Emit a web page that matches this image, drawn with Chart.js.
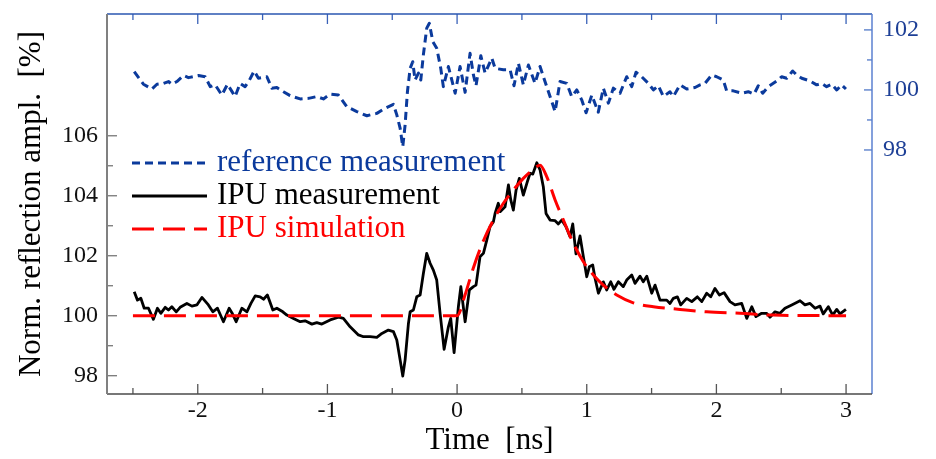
<!DOCTYPE html>
<html>
<head>
<meta charset="utf-8">
<script src="https://cdn.jsdelivr.net/npm/chart.js@4.4.1/dist/chart.umd.min.js"></script>
<style>
  html, body { margin: 0; padding: 0; background: #fff; }
  #wrap { width: 936px; height: 459px; position: relative; }
</style>
</head>
<body>
<div id="wrap"><canvas id="ipu-chart"></canvas></div>
<script>
// reference measurement (right axis), time in ns / amplitude in %
var refTime = [-2.490,-2.419,-2.354,-2.315,-2.264,-2.226,-2.200,-2.161,-2.110,-2.072,
  -1.995,-1.943,-1.904,-1.866,-1.814,-1.771,-1.712,-1.673,-1.635,-1.601,
  -1.565,-1.532,-1.467,-1.429,-1.390,-1.339,-1.288,-1.210,-1.146,-1.082,
  -1.031,-0.979,-0.915,-0.850,-0.773,-0.696,-0.619,-0.555,-0.491,-0.465,
  -0.439,-0.419,-0.401,-0.383,-0.362,-0.342,-0.324,-0.298,-0.280,-0.260,
  -0.234,-0.214,-0.187,-0.157,-0.126,-0.106,-0.067,-0.015,0.023,0.062,
  0.100,0.126,0.146,0.183,0.216,0.268,0.293,0.357,0.409,0.439,
  0.473,0.511,0.550,0.601,0.640,0.678,0.717,0.756,0.794,0.846,
  0.884,0.923,0.961,0.995,1.039,1.089,1.128,1.167,1.205,1.257,
  1.308,1.347,1.380,1.424,1.475,1.514,1.552,1.591,1.642,1.668,
  1.719,1.771,1.835,1.874,1.912,1.964,2.002,2.053,2.079,2.130,
  2.195,2.246,2.290,2.323,2.357,2.400,2.439,2.477,2.503,2.542,
  2.588,2.619,2.658,2.722,2.773,2.812,2.850,2.889,2.928,2.966,
  2.999];
var refAmpl = [100.61,100.19,100.03,100.19,100.22,100.28,100.19,100.28,100.48,100.41,
  100.48,100.44,100.11,100.17,99.83,100.19,99.78,100.22,100.11,100.33,
  100.63,100.39,100.44,100.06,100.08,99.94,99.81,99.70,99.72,99.78,
  99.70,99.86,99.83,99.44,99.28,99.14,99.22,99.39,99.52,99.17,
  98.72,98.11,98.83,99.94,100.72,100.94,100.33,100.56,100.33,101.17,
  102.06,102.22,101.61,101.39,100.72,100.11,100.78,99.89,100.78,99.92,
  101.22,100.50,100.14,101.14,100.56,101.06,100.72,100.67,100.67,100.14,
  100.89,100.17,100.83,100.22,100.78,100.28,99.78,99.28,100.28,100.22,
  99.78,100.00,99.67,99.24,99.83,99.26,100.06,99.56,100.06,99.89,
  100.44,100.11,100.59,100.44,100.22,100.00,100.14,99.78,99.94,99.78,
  100.17,100.03,100.08,100.17,100.22,100.50,100.44,100.33,99.97,99.97,
  99.89,99.94,99.86,100.14,99.89,100.11,100.22,100.33,100.44,100.39,
  100.63,100.50,100.39,100.30,100.17,100.22,100.11,100.19,100.00,100.17,
  100.03];

// IPU measurement (left axis)
var ipuTime = [-2.490,-2.465,-2.439,-2.413,-2.380,-2.342,-2.311,-2.285,-2.251,-2.226,
  -2.200,-2.166,-2.136,-2.084,-2.045,-2.007,-1.968,-1.918,-1.884,-1.848,
  -1.802,-1.758,-1.737,-1.704,-1.660,-1.621,-1.590,-1.557,-1.519,-1.493,
  -1.463,-1.421,-1.390,-1.344,-1.313,-1.262,-1.210,-1.172,-1.120,-1.082,
  -1.043,-0.979,-0.915,-0.877,-0.825,-0.761,-0.722,-0.671,-0.619,-0.580,
  -0.530,-0.491,-0.465,-0.439,-0.419,-0.401,-0.375,-0.362,-0.337,-0.311,
  -0.285,-0.260,-0.234,-0.208,-0.183,-0.157,-0.131,-0.100,-0.067,-0.049,
  -0.023,0.010,0.029,0.062,0.095,0.126,0.146,0.177,0.203,0.229,
  0.254,0.280,0.293,0.318,0.332,0.370,0.396,0.414,0.434,0.455,
  0.480,0.511,0.542,0.563,0.584,0.615,0.640,0.665,0.686,0.717,
  0.756,0.781,0.807,0.840,0.871,0.892,0.917,0.948,0.974,1.000,
  1.020,1.046,1.064,1.090,1.128,1.154,1.185,1.210,1.244,1.282,
  1.308,1.347,1.372,1.411,1.436,1.463,1.501,1.527,1.565,1.617,
  1.642,1.668,1.699,1.725,1.771,1.810,1.853,1.887,1.925,1.956,
  1.989,2.023,2.059,2.105,2.143,2.195,2.234,2.273,2.305,2.349,
  2.388,2.413,2.452,2.490,2.529,2.581,2.645,2.683,2.722,2.761,
  2.799,2.824,2.863,2.897,2.928,2.953,2.999];
var ipuAmpl = [100.80,100.52,100.58,100.25,100.25,99.88,100.25,100.08,100.28,100.19,
  100.30,100.13,100.28,100.41,100.32,100.36,100.61,100.36,100.13,100.25,
  99.80,100.25,100.10,99.80,100.25,100.13,100.41,100.66,100.63,100.55,
  100.69,100.19,100.25,100.13,100.02,99.91,99.80,99.83,99.72,99.77,
  99.72,99.86,99.95,99.91,99.63,99.36,99.30,99.30,99.28,99.41,
  99.52,99.47,99.19,98.52,97.99,98.52,99.75,100.13,100.19,100.63,
  100.69,101.41,102.08,101.75,101.52,101.19,100.08,98.88,99.63,99.91,
  98.77,100.30,100.97,99.80,100.86,100.97,101.02,101.97,102.08,102.52,
  102.97,103.13,103.41,103.75,103.47,103.63,104.36,103.86,103.52,104.19,
  104.58,104.02,104.47,104.75,104.72,105.10,104.86,104.30,103.41,103.19,
  103.17,103.06,103.19,102.97,102.63,103.06,102.06,102.66,101.97,101.30,
  101.63,101.69,101.25,100.75,101.13,100.86,101.13,100.88,101.13,100.97,
  101.19,101.36,101.08,101.32,101.13,101.32,100.75,101.02,100.52,100.52,
  100.41,100.58,100.63,100.36,100.58,100.47,100.63,100.47,100.75,100.63,
  100.91,100.69,100.77,100.47,100.36,100.41,99.91,100.30,99.97,100.08,
  100.08,99.95,100.13,100.08,100.25,100.36,100.50,100.36,100.41,100.25,
  100.32,100.06,100.30,100.02,100.21,100.06,100.21];

// IPU simulation (left axis)
var simTime = [-2.5, 0.0, 0.062, 0.126, 0.203, 0.280, 0.357, 0.434, 0.511, 0.588, 0.640,
  0.692, 0.756, 0.820, 0.897, 0.974, 1.051, 1.128, 1.231, 1.359, 1.514, 1.719, 1.925,
  2.182, 2.439, 3.0];
var simAmpl = [100, 100, 100.70, 101.60, 102.50, 103.19, 103.75, 104.19, 104.58, 104.88, 105.02,
  104.63, 103.86, 103.19, 102.41, 101.80, 101.36, 101.02, 100.69, 100.43, 100.30, 100.21, 100.13,
  100.08, 100.02, 100.0];

var timeTicks = [-2, -1, 0, 1, 2, 3];
var leftTicks = [98, 100, 102, 104, 106];
var rightTicks = [98, 100, 102];

var serif = "'Liberation Serif', 'Times New Roman', serif";
var refBlue = "#0b3a9c";

function toPoints(xs, ys) {
  return xs.map(function (x, i) {
    return { x: x, y: ys[i] };
  });
}

function fixTicks(values) {
  return function (scale) {
    scale.ticks = values.map(function (v) {
      return { value: v };
    });
  };
}

function noPad(scale) {
  scale.paddingTop = 0;
  scale.paddingBottom = 0;
  scale.paddingLeft = 0;
  scale.paddingRight = 0;
}

// axis frame + inward tick marks
var framePlugin = {
  id: "frame",
  afterDatasetsDraw: function (chart) {
    var ctx = chart.ctx;
    var a = chart.chartArea;
    var sx = chart.scales.x, yl = chart.scales.y, yr = chart.scales.y2;

    function seg(x1, y1, x2, y2, color, w) {
      ctx.beginPath();
      ctx.strokeStyle = color;
      ctx.lineWidth = w;
      ctx.moveTo(x1, y1);
      ctx.lineTo(x2, y2);
      ctx.stroke();
    }

    ctx.save();
    // x ticks, bottom and top
    timeTicks.forEach(function (v) {
      var px = sx.getPixelForValue(v);
      var mx = sx.getPixelForValue(v - 0.5);
      seg(px, a.bottom, px, a.bottom - 10, "#555", 1.3);
      seg(mx, a.bottom, mx, a.bottom - 6, "#555", 1.3);
      seg(px, a.top, px, a.top + 10, "#3a62b8", 1.3);
      seg(mx, a.top, mx, a.top + 6, "#3a62b8", 1.3);
    });
    // left ticks
    leftTicks.forEach(function (v, i) {
      var py = yl.getPixelForValue(v);
      seg(a.left, py, a.left + 10, py, "#777", 1.3);
      if (i < leftTicks.length - 1) {
        var my = yl.getPixelForValue(v + 1);
        seg(a.left, my, a.left + 6, my, "#777", 1.3);
      }
    });
    // right ticks
    rightTicks.forEach(function (v, i) {
      var py = yr.getPixelForValue(v);
      seg(a.right, py, a.right - 8, py, "#5078c8", 1.3);
      if (i < rightTicks.length - 1) {
        var my = yr.getPixelForValue(v + 1);
        seg(a.right, my, a.right - 5, my, "#5078c8", 1.3);
      }
    });
    // frame
    seg(a.left, a.top, a.right, a.top, "#2a56b0", 1.5);
    seg(a.right, a.top, a.right, a.bottom, "#5b80d0", 1.5);
    seg(a.left, a.bottom, a.right, a.bottom, "#4a4a4a", 1.5);
    seg(a.left, a.top, a.left, a.bottom, "#808080", 2);
    ctx.restore();
  }
};

// legend inside the plot, upper left
var legendPlugin = {
  id: "insideLegend",
  afterDraw: function (chart) {
    var ctx = chart.ctx;
    var a = chart.chartArea;
    var order = ["reference measurement", "IPU measurement", "IPU simulation"];
    ctx.save();
    ctx.font = "31px " + serif;
    ctx.textBaseline = "middle";
    ctx.textAlign = "left";
    order.forEach(function (name, i) {
      var ds = chart.data.datasets.filter(function (d) { return d.label === name; })[0];
      var y = a.top + 149 + i * 33;
      var x0 = a.left + 25;
      ctx.beginPath();
      ctx.setLineDash(ds.borderDash || []);
      ctx.strokeStyle = ds.borderColor;
      ctx.lineWidth = 3;
      ctx.moveTo(x0, y);
      ctx.lineTo(x0 + 75, y);
      ctx.stroke();
      ctx.setLineDash([]);
      ctx.fillStyle = ds.borderColor;
      ctx.fillText(name, x0 + 85, y);
    });
    ctx.restore();
  }
};

var ctx = document.getElementById("ipu-chart");

window.myChart = new Chart(ctx, {
  type: "line",
  data: {
    datasets: [
      {
        label: "IPU simulation",
        data: toPoints(simTime, simAmpl),
        yAxisID: "y",
        borderColor: "#ff0000",
        borderWidth: 3,
        borderDash: [22, 9],
        pointRadius: 0,
        cubicInterpolationMode: "monotone",
        order: 0
      },
      {
        label: "IPU measurement",
        data: toPoints(ipuTime, ipuAmpl),
        yAxisID: "y",
        borderColor: "#000000",
        borderWidth: 2.8,
        pointRadius: 0,
        tension: 0,
        borderJoinStyle: "round",
        order: 1
      },
      {
        label: "reference measurement",
        data: toPoints(refTime, refAmpl),
        yAxisID: "y2",
        borderColor: refBlue,
        borderWidth: 3,
        borderDash: [8, 5],
        pointRadius: 0,
        tension: 0,
        borderJoinStyle: "round",
        order: 2
      }
    ]
  },
  options: {
    responsive: true,
    maintainAspectRatio: false,
    animation: false,
    layout: { padding: { top: 14, left: 0, right: 0, bottom: 0 }, autoPadding: false },
    plugins: {
      legend: { display: false },
      tooltip: { enabled: false }
    },
    scales: {
      x: {
        type: "linear",
        min: -2.70,
        max: 3.20,
        grid: { display: false, drawTicks: false },
        border: { display: false },
        ticks: { font: { family: serif, size: 24 }, color: "#111", padding: 2 },
        afterBuildTicks: fixTicks(timeTicks),
        afterFit: function (s) { s.height = 65; noPad(s); },
        title: {
          display: true,
          text: "Time  [ns]",
          color: "#000",
          font: { family: serif, size: 31 },
          padding: { top: 0, bottom: 0 }
        }
      },
      y: {
        position: "left",
        min: 97.39,
        max: 110.06,
        grid: { display: false, drawTicks: false },
        border: { display: false },
        ticks: { font: { family: serif, size: 24 }, color: "#111", padding: 9 },
        afterBuildTicks: fixTicks(leftTicks),
        afterFit: function (s) { s.width = 107; noPad(s); },
        title: {
          display: true,
          text: "Norm. reflection ampl.  [%]",
          color: "#000",
          font: { family: serif, size: 31 },
          padding: { top: 13, bottom: 0 }
        }
      },
      y2: {
        position: "right",
        min: 89.87,
        max: 102.53,
        grid: { display: false, drawTicks: false },
        border: { display: false },
        ticks: { font: { family: serif, size: 24 }, color: "#1d3f96", padding: 11 },
        afterBuildTicks: fixTicks(rightTicks),
        afterFit: function (s) { s.width = 64; noPad(s); }
      }
    }
  },
  plugins: [framePlugin, legendPlugin]
});
</script>
</body>
</html>
